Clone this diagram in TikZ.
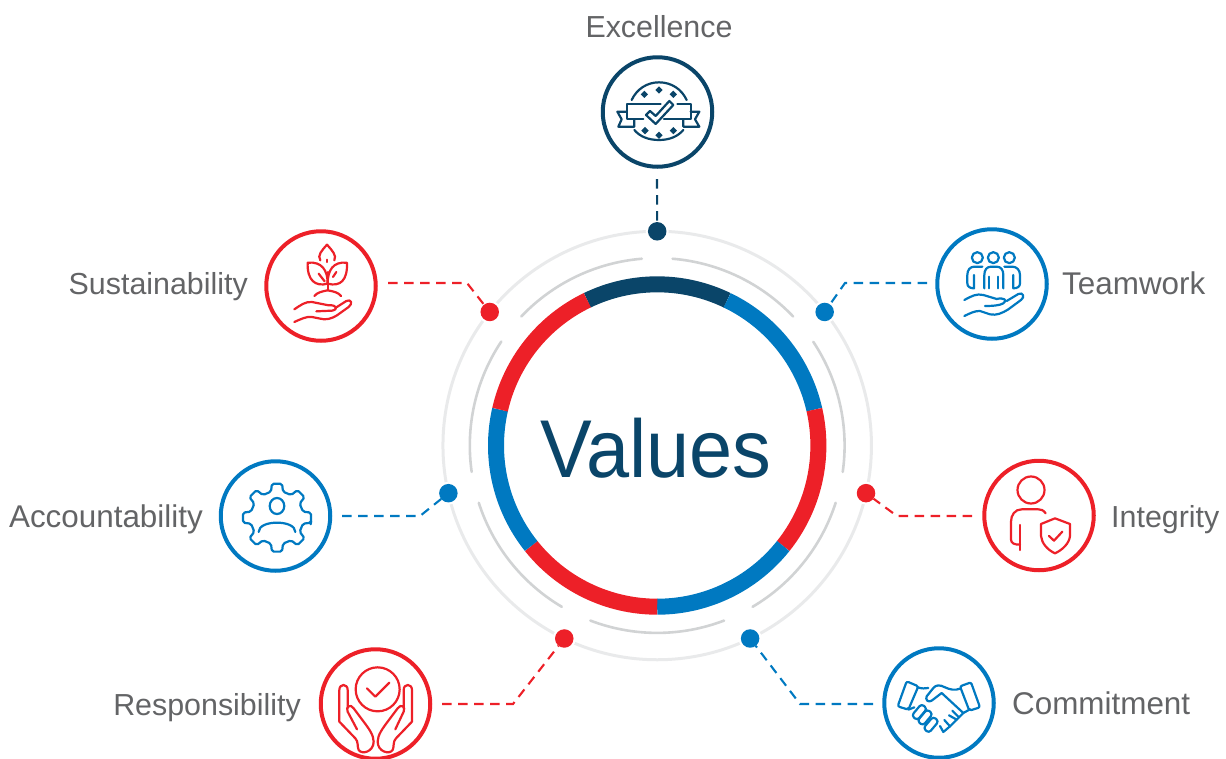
\documentclass[tikz,border=0pt]{standalone}
\usepackage{fontspec}
\setmainfont{Liberation Sans}
\newfontfamily\valfont[FakeStretch=0.945]{Liberation Sans}
\definecolor{cred}{HTML}{ED2028}
\definecolor{cblue}{HTML}{0079C1}
\definecolor{cdark}{HTML}{0A4569}
\definecolor{ctext}{HTML}{636466}
\definecolor{cgrey}{HTML}{D1D3D4}
\definecolor{clight}{HTML}{E9EAEB}
\tikzset{
  iconring/.style={circle,draw=#1,line width=4pt,minimum size=109.5pt,inner sep=0pt},
  dotnode/.style={circle,fill=#1,minimum size=18.5pt,inner sep=0pt,outer sep=0pt},
  halo/.style={circle,fill=white,minimum size=23pt,inner sep=0pt},
  label/.style={text=ctext,font=\fontsize{30.4}{32}\selectfont,inner sep=0pt},
  labelwide/.style={text=ctext,font=\fontsize{31.4}{33}\selectfont,inner sep=0pt},
  link/.style={draw=#1,line width=2.1pt,dash pattern=on 9.5pt off 6.5pt},
  seg/.style={line width=16pt,draw=#1},
  arcgrey/.style={line width=2.6pt,draw=cgrey,line cap=round},
  ico/.style={draw=#1,line width=2.2pt,line cap=round,line join=round,fill=none},
}
\newcommand{\ringseg}[3]{\draw[seg=#3] (#1:161.2pt) arc[start angle=#1,end angle=#2,radius=161.2pt];}
\newcommand{\greyarc}[2]{\draw[arcgrey] (#1:187.4pt) arc[start angle=#1,end angle=#2,radius=187.4pt];}
\begin{document}
\begin{tikzpicture}[x=1pt,y=-1pt]
\useasboundingbox (0,0) rectangle (1226,758);

% central rings
\begin{scope}[shift={(657.2,445.5)},x=1pt,y=1pt]
  \node[circle,draw=clight,line width=3pt,minimum size=428.5pt,inner sep=0pt] (outer) at (0,0) {};
  \greyarc{85.3}{43.5}\greyarc{33.6}{-8.1}\greyarc{-17.8}{-59.4}\greyarc{-69.1}{-110.9}
  \greyarc{-120.6}{-162.2}\greyarc{-171.9}{-213.7}\greyarc{-223.5}{-265.3}
  \ringseg{64.29}{115.71}{cdark}
  \ringseg{12.86}{64.29}{cblue}
  \ringseg{-38.57}{12.86}{cred}
  \ringseg{-90}{-38.57}{cblue}
  \ringseg{-141.43}{-90}{cred}
  \ringseg{167.14}{218.57}{cblue}
  \ringseg{115.71}{167.14}{cred}
  \foreach \a in {90,38.57,-12.86,-64.29,-115.71,192.86,141.43}{\node[halo] at (\a:214.2pt) {};}
  \node[dotnode=cdark] (dE) at (90:214.2pt) {};
  \node[dotnode=cblue] (dT) at (38.57:214.2pt) {};
  \node[dotnode=cred] (dI) at (-12.86:214.2pt) {};
  \node[dotnode=cblue] (dC) at (-64.29:214.2pt) {};
  \node[dotnode=cred] (dR) at (-115.71:214.2pt) {};
  \node[dotnode=cblue] (dA) at (192.86:214.2pt) {};
  \node[dotnode=cred] (dS) at (141.43:214.2pt) {};
\end{scope}
\node[text=cdark,inner sep=0pt,anchor=base,font=\valfont\fontsize{82}{84}\selectfont] (values) at (656,477) {Values};

% icon rings
\node[iconring=cdark] (iE) at (657.5,112) {};
\node[iconring=cblue] (iT) at (992,284) {};
\node[iconring=cred] (iI) at (1039,515.5) {};
\node[iconring=cblue] (iC) at (939,703) {};
\node[iconring=cred] (iR) at (375.5,704) {};
\node[iconring=cblue] (iA) at (275.5,516) {};
\node[iconring=cred] (iS) at (321,286) {};

% labels
\node[label,anchor=base] (lE) at (659,37) {Excellence};
\node[labelwide,anchor=base west] (lT) at (1062,294) {Teamwork};
\node[label,anchor=base west] (lI) at (1111,527) {Integrity};
\node[labelwide,anchor=base west] (lC) at (1012,714) {Commitment};
\node[label,anchor=base east] (lR) at (301,715) {Responsibility};
\node[labelwide,anchor=base east] (lA) at (203,527) {Accountability};
\node[label,anchor=base east] (lS) at (248,294) {Sustainability};

% connectors
\coordinate (sE) at (657,179);
\coordinate (sT) at (927,283); \coordinate (kT) at (845,283);
\coordinate (sI) at (972,516); \coordinate (kI) at (897,516);
\coordinate (sC) at (873,704); \coordinate (kC) at (800,704);
\coordinate (sR) at (442,704); \coordinate (kR) at (513,704);
\coordinate (sA) at (342,516); \coordinate (kA) at (420,516);
\coordinate (sS) at (388,283); \coordinate (kS) at (467,283);
\draw[link=cdark] (sE) -- (dE);
\draw[link=cblue] (sT) -- (kT) -- (dT);
\draw[link=cred] (sI) -- (kI) -- (dI);
\draw[link=cblue] (sC) -- (kC) -- (dC);
\draw[link=cred] (sR) -- (kR) -- (dR);
\draw[link=cblue] (sA) -- (kA) -- (dA);
\draw[link=cred] (sS) -- (kS) -- (dS);

% Excellence icon
\begin{scope}[shift={(590,50)},x=.3333pt,y=-.3333pt]
  \draw[ico=cdark] (125,150) .. controls (140,118) and (170,97) .. (207,97) .. controls (245,97) and (275,118) .. (290,150);
  \draw[ico=cdark] (133,240) .. controls (150,260) and (175,270) .. (207,270) .. controls (238,270) and (263,260) .. (280,240);
  \draw[ico=cdark] (212,163) -- (112,163) -- (112,208) -- (160,208);
  \draw[ico=cdark] (262,163) -- (302,163) -- (302,208) -- (222,208);
  \draw[ico=cdark] (110,185) -- (82,185) -- (95,208) -- (85,230) -- (133,230) -- (133,210);
  \draw[ico=cdark] (302,185) -- (328,185) -- (315,208) -- (328,230) -- (280,230) -- (280,210);
  \draw[ico=cdark] (168,195) -- (180,183) -- (197,198) -- (238,153) -- (250,165) -- (197,222) -- cycle;
  \foreach \p in {(163,133),(207,120),(250,133),(165,242),(207,256),(250,242)}{
    \fill[cdark] \p ++(-11,0) -- ++(11,-11) -- ++(11,11) -- ++(-11,11) -- cycle;}
\end{scope}

% Teamwork icon
\begin{scope}[shift={(925,220)},x=.3333pt,y=-.3333pt]
  \foreach \c in {157,205,253}{\draw[ico=cblue] (\c,113) circle[radius=5.5pt];}
  \draw[ico=cblue] (178,205) -- (178,165) .. controls (178,150) and (185,140) .. (198,140) -- (215,140) .. controls (228,140) and (235,150) .. (235,165) -- (235,205);
  \draw[ico=cblue] (193,170) -- (193,205) (220,170) -- (220,205);
  \draw[ico=cblue] (172,140) -- (148,140) .. controls (135,140) and (127,150) .. (127,165) -- (127,190) .. controls (127,200) and (135,205) .. (147,205) -- (147,165);
  \draw[ico=cblue] (238,140) -- (262,140) .. controls (275,140) and (285,150) .. (285,165) -- (285,190) .. controls (285,200) and (277,205) .. (265,205) -- (265,165);
  \draw[ico=cblue] (118,240) .. controls (140,228) and (155,220) .. (175,225) -- (215,237) .. controls (235,232) and (250,240) .. (235,250) .. controls (225,256) and (205,258) .. (180,258);
  \draw[ico=cblue] (245,243) -- (280,222) .. controls (295,215) and (300,232) .. (288,240) -- (250,268) .. controls (230,280) and (215,287) .. (195,283) -- (165,273) .. controls (150,272) and (135,280) .. (118,288);
\end{scope}

% Integrity icon
\begin{scope}[shift={(975,450)},x=.3333pt,y=-.3333pt]
  \draw[ico=cred] (168,120) circle[radius=13.5pt];
  \draw[ico=cred] (212,190) .. controls (205,180) and (198,178) .. (190,178) -- (140,178) .. controls (120,178) and (108,195) .. (108,215) -- (108,268) .. controls (108,280) and (118,284) .. (135,284);
  \draw[ico=cred] (135,225) -- (135,300);
  \draw[ico=cred] (240,205) -- (285,222) -- (285,258) .. controls (283,280) and (262,300) .. (240,310) .. controls (218,300) and (200,280) .. (198,258) -- (198,222) -- cycle;
  \draw[ico=cred] (222,258) -- (237,272) -- (262,245);
\end{scope}

% Commitment icon
\begin{scope}[shift={(875,638)},x=.3333pt,y=-.3333pt]
  \draw[ico=cblue,rounded corners=2pt] (95,130) -- (130,145) -- (100,215) -- (68,205) -- cycle;
  \draw[ico=cblue,rounded corners=2pt] (255,145) -- (288,133) -- (315,208) -- (283,218) -- cycle;
  \draw[ico=cblue] (128,148) .. controls (140,152) and (150,152) .. (160,150);
  \draw[ico=cblue] (255,152) .. controls (240,158) and (225,155) .. (210,148) .. controls (195,140) and (183,140) .. (175,150) -- (155,175) .. controls (150,185) and (160,195) .. (170,188) -- (200,165) -- (265,225);
  \draw[ico=cblue] (283,215) -- (265,225) -- (245,245);
  \draw[ico=cblue] (232,218) -- (250,236);
  \draw[ico=cblue] (245,245) -- (222,232);
  \draw[ico=cblue] (245,245) -- (225,265) -- (208,246);
  \draw[ico=cblue] (225,265) -- (205,282) -- (195,264);
  \draw[ico=cblue] (100,215) -- (118,208);
  \foreach \c/\l in {135/222,152/238,170/260}{
    \draw[ico=cblue,rotate around={50:(\c,\l-2)},rounded corners=3pt] (\c-26,\l-13) rectangle (\c+20,\l+9);}
\end{scope}

% Responsibility icon
\begin{scope}[shift={(312,640)},x=.3333pt,y=-.3333pt]
  \draw[ico=cred] (197,148) circle[radius=22pt];
  \draw[ico=cred] (165,145) -- (190,170) -- (232,128);
  \draw[ico=cred] (107,205) -- (107,150) .. controls (107,130) and (82,130) .. (82,150) -- (82,245) -- (130,295) .. controls (140,305) and (135,320) .. (140,330) .. controls (150,345) and (185,335) .. (185,305) .. controls (185,285) and (170,265) .. (155,245) -- (125,205) .. controls (115,190) and (100,200) .. (107,215) -- (135,268);
  \draw[ico=cred] (275,205) -- (275,150) .. controls (275,130) and (300,130) .. (300,150) -- (300,245) -- (252,295) .. controls (242,305) and (247,320) .. (242,330) .. controls (232,345) and (197,335) .. (197,305) .. controls (197,285) and (212,265) .. (227,245) -- (257,205) .. controls (267,190) and (282,200) .. (275,215) -- (250,268);
\end{scope}

% Accountability icon
\begin{scope}[shift={(212,452)},x=.3333pt,y=-.3333pt]
  \begin{scope}[shift={(195,197)}]
  \draw[ico=cblue,rounded corners=1.8pt] (8:103) \foreach \a in {0,45,...,315}{
     -- ({\a+8.5}:103) -- ({\a+13}:80) -- ({\a+32}:80) -- ({\a+36.5}:103)} -- cycle;
  \end{scope}
  \draw[ico=cblue] (195,162) ellipse[x radius=7.3pt,y radius=8pt];
  \draw[ico=cblue] (140,240) .. controls (140,222) and (165,212) .. (195,212) .. controls (225,212) and (250,222) .. (250,240);
\end{scope}

% Sustainability icon
\begin{scope}[shift={(257,222)},x=.3333pt,y=-.3333pt]
  \draw[ico=cred] (190,115) .. controls (180,100) and (195,85) .. (210,68) .. controls (225,85) and (240,100) .. (232,115);
  \draw[ico=cred] (210,113) -- (210,120);
  \draw[ico=cred] (212,205) -- (212,150);
  \draw[ico=cred] (212,185) .. controls (175,195) and (150,175) .. (152,122) .. controls (195,118) and (212,145) .. (212,185);
  \draw[ico=cred] (212,185) .. controls (250,195) and (272,175) .. (270,122) .. controls (228,118) and (212,145) .. (212,185);
  \draw[ico=cred] (185,155) -- (203,178) (238,150) -- (228,165);
  \draw[ico=cred] (172,222) .. controls (180,212) and (195,208) .. (212,205) .. controls (230,208) and (245,212) .. (252,222);
  \draw[ico=cred] (112,262) .. controls (130,250) and (145,238) .. (165,240) -- (215,250) .. controls (240,248) and (245,262) .. (225,266) -- (178,268);
  \draw[ico=cred] (235,258) -- (268,237) .. controls (283,230) and (288,245) .. (275,255) -- (240,280) .. controls (225,290) and (205,295) .. (190,290) -- (165,285) .. controls (150,282) and (130,292) .. (112,300);
\end{scope}
\end{tikzpicture}
\end{document}
